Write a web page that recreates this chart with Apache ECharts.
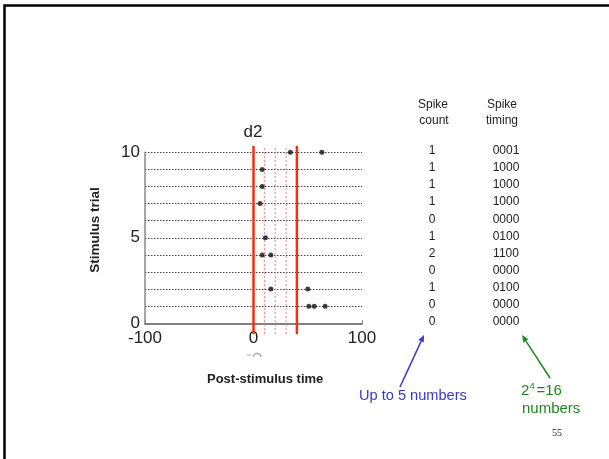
<!DOCTYPE html>
<html>
<head>
<meta charset="utf-8">
<script src="https://cdn.jsdelivr.net/npm/echarts@6/dist/echarts.min.js"></script>
<style>
html,body{margin:0;padding:0;background:#fff;}
#chart{width:609px;height:459px;}
</style>
</head>
<body>
<div id="chart"></div>
<script>
// ---- data ----
const trials = [10, 9, 8, 7, 6, 5, 4, 3, 2, 1, 0];
const spikeTimes = [[34, 63], [8], [8], [6], [], [11], [8, 16], [], [16, 50], [51, 56, 66], []];
const spikeCount = ['1', '1', '1', '1', '0', '1', '2', '0', '1', '0', '0'];
const spikeTiming = ['0001', '1000', '1000', '1000', '0000', '0100', '1100', '0000', '0100', '0000', '0000'];
const binEdgesSolid = [0, 40];
const binEdgesDashed = [10, 20, 30];
const xTickLabels = [-100, 0, 100];
const yTickLabels = [0, 5, 10];
const lineExtent = [-0.63, 10.37];

const FONT = 'Liberation Sans, Arial, sans-serif';

const chart = echarts.init(document.getElementById('chart'), null, {renderer: 'canvas'});

const spikePoints = [];
trials.forEach((t, i) => spikeTimes[i].forEach(x => spikePoints.push([x, t])));

const tableData = [];
trials.forEach((t, i) => {
  tableData.push([0, t, spikeCount[i]]);
  tableData.push([1, t, spikeTiming[i]]);
});

const edgeSeries = [];
binEdgesDashed.forEach(x => edgeSeries.push({
  type: 'line', xAxisIndex: 0, yAxisIndex: 0, clip: false, showSymbol: false, silent: true, z: 3,
  data: [[x, lineExtent[0]], [x, lineExtent[1]]],
  lineStyle: {color: '#ff7f6a', width: 1, type: [2, 2]}
}));
binEdgesSolid.forEach(x => edgeSeries.push({
  type: 'line', xAxisIndex: 0, yAxisIndex: 0, clip: false, showSymbol: false, silent: true, z: 4,
  data: [[x, lineExtent[0]], [x, lineExtent[1]]],
  lineStyle: {color: '#f2300f', width: 2.5}
}));

function arrow(x1, y1, x2, y2, color) {
  const ang = Math.atan2(y2 - y1, x2 - x1);
  const L = 7, W = 3;
  const bx = x2 - L * Math.cos(ang), by = y2 - L * Math.sin(ang);
  const px = -Math.sin(ang) * W, py = Math.cos(ang) * W;
  return [
    {type: 'line', shape: {x1: x1, y1: y1, x2: bx, y2: by}, style: {stroke: color, lineWidth: 1.5}},
    {type: 'polygon', shape: {points: [[x2, y2], [bx + px, by + py], [bx - px, by - py]]}, style: {fill: color}}
  ];
}

function txt(text, x, y, opts) {
  opts = opts || {};
  return {
    type: 'text',
    rotation: opts.rotation || 0,
    x: opts.rotation ? x : 0, y: opts.rotation ? y : 0,
    style: {
      text: text,
      x: opts.rotation ? 0 : x, y: opts.rotation ? 0 : y,
      font: (opts.weight || 'normal') + ' ' + (opts.size || 12) + 'px ' + (opts.family || FONT),
      fill: opts.color || '#222',
      align: opts.align || 'center', textAlign: opts.align || 'center',
      verticalAlign: 'middle', textVerticalAlign: 'middle'
    }
  };
}

const blue = '#3838d0';
const green = '#1a8a1a';

const graphics = [
  {type: 'rect', shape: {x: 4.5, y: 5.5, width: 800, height: 800}, style: {fill: 'none', stroke: '#000', lineWidth: 2.5}},
  txt('d2', 253, 132, {size: 17}),
  txt('Stimulus trial', 95, 230, {size: 13.5, weight: 'bold', rotation: Math.PI / 2}),
  txt('Post-stimulus time', 207, 379, {size: 13, weight: 'bold', align: 'left'}),
  txt('Spike', 433, 105, {size: 12}),
  txt('count', 434, 121, {size: 12}),
  txt('Spike', 502, 105, {size: 12}),
  txt('timing', 502, 121, {size: 12}),
  txt('Up to 5 numbers', 359, 396, {size: 14.6, color: blue, align: 'left'}),
  txt('2', 521, 391, {size: 15, color: green, align: 'left'}),
  txt('4', 529.5, 386, {size: 9.5, color: green, align: 'left'}),
  txt('=16', 536.5, 391, {size: 15, color: green, align: 'left'}),
  txt('numbers', 522, 409, {size: 15, color: green, align: 'left'}),
  txt('55', 557, 433, {size: 10, family: 'Liberation Serif, Times New Roman, serif'}),
  {type: 'arc', shape: {cx: 257, cy: 357.5, r: 4, startAngle: Math.PI * 1.05, endAngle: Math.PI * 1.95}, style: {stroke: '#aaa', lineWidth: 1.5, fill: 'none'}},
  {type: 'line', shape: {x1: 247, y1: 355, x2: 251, y2: 355}, style: {stroke: '#bbb', lineWidth: 1.2}}
].concat(arrow(400, 387, 424, 335, blue)).concat(arrow(550, 378, 522, 335, green));

const option = {
  animation: false,
  backgroundColor: '#fff',
  grid: [
    {left: 145, right: 247, top: 152.3, bottom: 135.7},
    {left: 432, right: 103, top: 150.8, bottom: 137.2}
  ],
  xAxis: [
    {
      type: 'value', gridIndex: 0, min: -100, max: 100, interval: 100,
      axisLine: {show: true, onZero: false, lineStyle: {color: '#808080', width: 2}},
      axisTick: {show: true, inside: true, length: 3, lineStyle: {color: '#808080'}},
      splitLine: {show: false},
      axisLabel: {
        fontSize: 17, color: '#222', fontFamily: FONT, margin: 7,
        formatter: v => (xTickLabels.indexOf(v) >= 0 ? String(v) : '')
      }
    },
    {type: 'value', gridIndex: 1, min: 0, max: 1, show: false}
  ],
  yAxis: [
    {
      type: 'value', gridIndex: 0, min: 0, max: 10, interval: 1,
      axisLine: {show: true, onZero: false, lineStyle: {color: '#888', width: 1.5}},
      axisTick: {show: false},
      splitLine: {show: true, lineStyle: {color: '#444', width: 1, type: [1.5, 1.5]}},
      axisLabel: {
        fontSize: 17, color: '#222', fontFamily: FONT, margin: 5,
        formatter: v => (yTickLabels.indexOf(v) >= 0 ? String(v) : '')
      }
    },
    {type: 'value', gridIndex: 1, min: 0, max: 10, show: false}
  ],
  series: edgeSeries.concat([
    {
      type: 'scatter', xAxisIndex: 0, yAxisIndex: 0, z: 5,
      symbol: 'circle', symbolSize: 5,
      itemStyle: {color: '#111'},
      data: spikePoints
    },
    {
      type: 'scatter', xAxisIndex: 1, yAxisIndex: 1, z: 5,
      symbolSize: 1, itemStyle: {color: 'rgba(0,0,0,0)'},
      label: {
        show: true, position: 'inside', fontSize: 12, color: '#222', fontFamily: FONT,
        opacity: 1,
        formatter: p => p.value[2]
      },
      data: tableData
    }
  ]),
  graphic: graphics
};
chart.setOption(option);
</script>
</body>
</html>
